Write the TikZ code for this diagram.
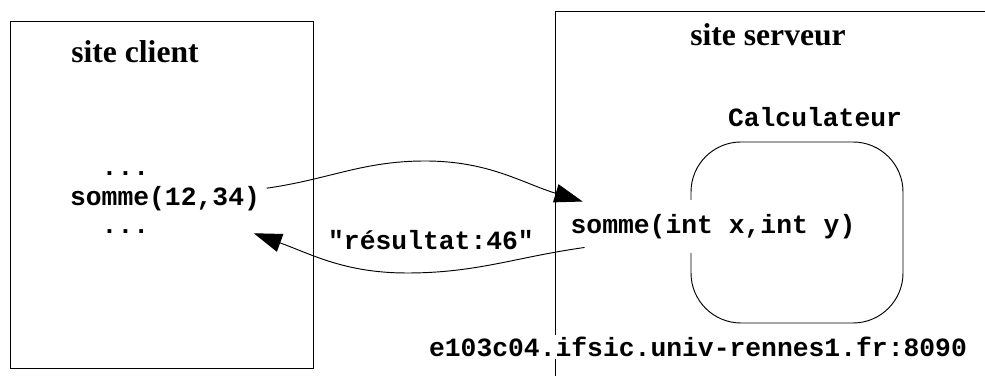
\documentclass[tikz,border=0pt]{standalone}
\usepackage{fontspec}
\setmainfont{Liberation Serif}
\setmonofont{Liberation Mono}
\usetikzlibrary{arrows.meta,positioning}
\begin{document}
\begin{tikzpicture}[x=0.03cm, y=0.03cm, line width=0.8pt,
        title/.style={font=\bfseries\fontsize{27}{30}\selectfont, inner sep=0pt},
        code/.style={font=\ttfamily\bfseries\fontsize{22.5}{25}\selectfont, inner sep=2pt},
        msg/.style={-{Triangle[length=24pt,width=16pt]}}]
    \useasboundingbox (0,0) rectangle (985,376);
    \clip (0,0) rectangle (985,376);

    % site client
    \draw (10,8) rectangle (313,355);
    \node[title] (client) at (135,324) {site client};
    \node[code, anchor=base] (call) at (165,170) {somme(12,34)};
    \node[code, anchor=base west] (dotsA) at ([shift={(0,30)}]call.base west) {\phantom{so}...};
    \node[code, anchor=base west] (dotsB) at ([shift={(0,-28)}]call.base west) {\phantom{so}...};

    % site serveur
    \draw (555,-5) -- (555,365) -- (990,365);
    \node[title] (server) at (768,341) {site serveur};
    \node[code] (calc) at (815,259) {Calculateur};
    \node[draw, rounded corners=1.5cm, minimum width=6.36cm, minimum height=5.43cm] (calcbox) at (797,143.5) {};
    \node[code, fill=white, inner xsep=3pt, minimum height=1.59cm] (serv) at (713,149.5) {somme(int x,int y)};
    \node[code, fill=white] (host) at (698,29) {e103c04.ifsic.univ-rennes1.fr:8090};

    % appel et retour
    \coordinate (peakA) at (425,215);
    \coordinate (dipB) at (407,103);
    \draw[msg] ([shift={(4,11)}]call.east) to[out=8,in=180] (peakA)
        to[out=0,in=163] ([shift={(16,-2)}]serv.north west);
    \draw[msg] ([shift={(18,6)}]serv.south west) to[out=188,in=0] (dipB)
        to[out=180,in=-20] ([shift={(-9,-19)}]call.south east);
    \node[code] (result) at (431,136) {"résultat:46"};
\end{tikzpicture}
\end{document}
